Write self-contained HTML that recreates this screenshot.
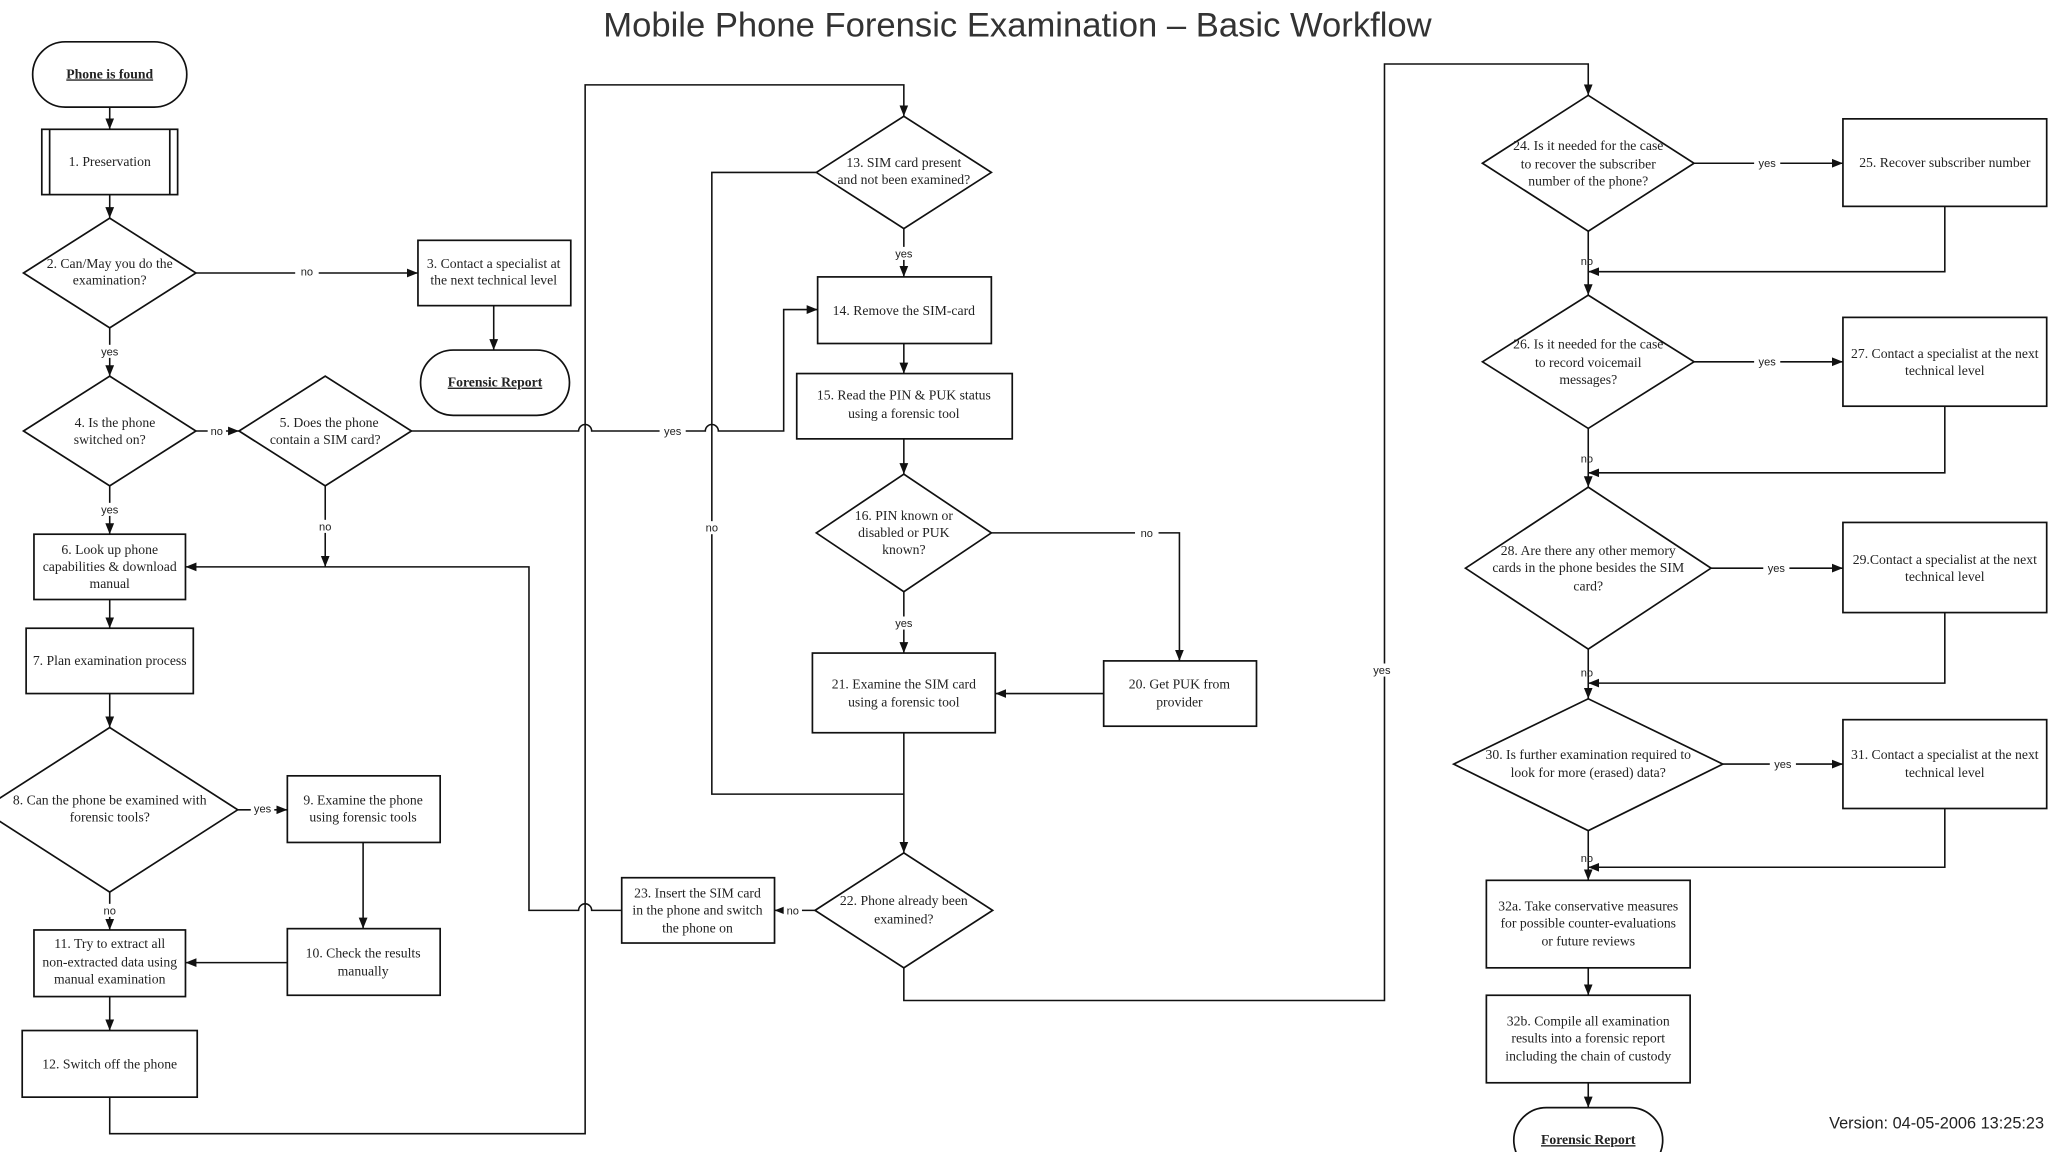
<!DOCTYPE html>
<html><head><meta charset="utf-8"><style>
html,body{margin:0;padding:0;background:#fff;}
svg{display:block;}
text{font-family:"Liberation Serif",serif;font-size:10.5px;fill:#222;}
.s{font-family:"Liberation Sans",sans-serif;font-size:8.5px;}
</style></head><body>
<svg width="2048" height="1152" viewBox="0 0 1568 882" preserveAspectRatio="none" xmlns="http://www.w3.org/2000/svg">
<defs><marker id="a" viewBox="0 0 10 10" refX="10" refY="5" markerWidth="7" markerHeight="7" orient="auto"><path d="M0,1 L10,5 L0,9 z" fill="#111"/></marker></defs>
<rect width="1568" height="882" fill="#fff"/>
<text x="779" y="28" text-anchor="middle" style="font-family:'Liberation Sans',sans-serif;font-size:26.5px;fill:#333">Mobile Phone Forensic Examination – Basic Workflow</text>
<g fill="#fff" stroke="#111" stroke-width="1.3">
<rect x="25" y="32" width="118" height="50" rx="25"/>
<rect x="32" y="99" width="104" height="50"/><line x1="38" y1="99" x2="38" y2="149"/><line x1="130" y1="99" x2="130" y2="149"/>
<polygon points="18,209 84,167 150,209 84,251"/>
<rect x="320" y="184" width="117" height="50"/>
<rect x="322" y="268" width="114" height="50" rx="25"/>
<polygon points="18,330 84,288 150,330 84,372"/>
<polygon points="183,330 249,288 315,330 249,372"/>
<rect x="26" y="409" width="116" height="50"/>
<rect x="20" y="481" width="128" height="50"/>
<polygon points="-14,620 84,557 182,620 84,683"/>
<rect x="220" y="594" width="117" height="51"/>
<rect x="220" y="711" width="117" height="51"/>
<rect x="26" y="712" width="116" height="51"/>
<rect x="17" y="789" width="134" height="51"/>
<polygon points="625,132 692,89 759,132 692,175"/>
<rect x="626" y="212" width="133" height="51"/>
<rect x="610" y="286" width="165" height="50"/>
<polygon points="625,408 692,363 759,408 692,453"/>
<rect x="622" y="500" width="140" height="61"/>
<rect x="845" y="506" width="117" height="50"/>
<polygon points="624,697 692,653 760,697 692,741"/>
<rect x="476" y="672" width="117" height="50"/>
<polygon points="1135,125 1216,73 1297,125 1216,177"/>
<rect x="1411" y="91" width="156" height="67"/>
<polygon points="1135,277 1216,226 1297,277 1216,328"/>
<rect x="1411" y="243" width="156" height="68"/>
<polygon points="1122,435 1216,373 1310,435 1216,497"/>
<rect x="1411" y="400" width="156" height="69"/>
<polygon points="1113,585 1216,535 1319,585 1216,636"/>
<rect x="1411" y="551" width="156" height="68"/>
<rect x="1138" y="674" width="156" height="67"/>
<rect x="1138" y="762" width="156" height="67"/>
<rect x="1159" y="848" width="114" height="50" rx="25"/>
</g>
<g fill="none" stroke="#111" stroke-width="1.2">
<path d="M84,82V99" marker-end="url(#a)"/>
<path d="M84,149V167" marker-end="url(#a)"/>
<path d="M150,209H320" marker-end="url(#a)"/>
<path d="M378,234V268" marker-end="url(#a)"/>
<path d="M84,251V288" marker-end="url(#a)"/>
<path d="M150,330H183" marker-end="url(#a)"/>
<path d="M84,372V409" marker-end="url(#a)"/>
<path d="M249,372V434" marker-end="url(#a)"/>
<path d="M84,459V481" marker-end="url(#a)"/>
<path d="M84,531V557" marker-end="url(#a)"/>
<path d="M182,620H220" marker-end="url(#a)"/>
<path d="M278,645V711" marker-end="url(#a)"/>
<path d="M220,737H142" marker-end="url(#a)"/>
<path d="M84,683V712" marker-end="url(#a)"/>
<path d="M84,763V789" marker-end="url(#a)"/>
<path d="M84,840V868H448V65H692V89" marker-end="url(#a)"/>
<path d="M315,330H443a5,5 0 0 1 10,0H540a5,5 0 0 1 10,0H600V237H626" marker-end="url(#a)"/>
<path d="M625,132H545V608H692"/>
<path d="M692,175V212" marker-end="url(#a)"/>
<path d="M692,263V286" marker-end="url(#a)"/>
<path d="M692,336V363" marker-end="url(#a)"/>
<path d="M759,408H903V506" marker-end="url(#a)"/>
<path d="M845,531H762" marker-end="url(#a)"/>
<path d="M692,453V500" marker-end="url(#a)"/>
<path d="M692,561V653" marker-end="url(#a)"/>
<path d="M624,697H593" marker-end="url(#a)"/>
<path d="M476,697H453a5,5 0 0 0 -10,0H405V434H142" marker-end="url(#a)"/>
<path d="M692,741V766H1060V49H1216V73" marker-end="url(#a)"/>
<path d="M1297,125H1411" marker-end="url(#a)"/>
<path d="M1489,158V208H1216" marker-end="url(#a)"/>
<path d="M1216,177V226" marker-end="url(#a)"/>
<path d="M1297,277H1411" marker-end="url(#a)"/>
<path d="M1489,311V362H1216" marker-end="url(#a)"/>
<path d="M1216,328V373" marker-end="url(#a)"/>
<path d="M1310,435H1411" marker-end="url(#a)"/>
<path d="M1489,469V523H1216" marker-end="url(#a)"/>
<path d="M1216,497V535" marker-end="url(#a)"/>
<path d="M1319,585H1411" marker-end="url(#a)"/>
<path d="M1489,619V664H1216" marker-end="url(#a)"/>
<path d="M1216,636V674" marker-end="url(#a)"/>
<path d="M1216,741V762" marker-end="url(#a)"/>
<path d="M1216,829V848" marker-end="url(#a)"/>
</g>
<g class="s" text-anchor="middle">
<rect x="226" y="203" width="18" height="10" fill="#fff"/><text class="s" x="235" y="211" text-anchor="middle">no</text>
<rect x="74" y="264" width="20" height="10" fill="#fff"/><text class="s" x="84" y="272" text-anchor="middle">yes</text>
<rect x="159" y="325" width="14" height="10" fill="#fff"/><text class="s" x="166" y="333" text-anchor="middle">no</text>
<rect x="74" y="385" width="20" height="10" fill="#fff"/><text class="s" x="84" y="393" text-anchor="middle">yes</text>
<rect x="240" y="398" width="18" height="10" fill="#fff"/><text class="s" x="249" y="406" text-anchor="middle">no</text>
<rect x="192" y="614" width="18" height="10" fill="#fff"/><text class="s" x="201" y="622" text-anchor="middle">yes</text>
<rect x="75" y="692" width="18" height="10" fill="#fff"/><text class="s" x="84" y="700" text-anchor="middle">no</text>
<rect x="505" y="325" width="20" height="10" fill="#fff"/><text class="s" x="515" y="333" text-anchor="middle">yes</text>
<rect x="536" y="399" width="18" height="10" fill="#fff"/><text class="s" x="545" y="407" text-anchor="middle">no</text>
<rect x="682" y="189" width="20" height="10" fill="#fff"/><text class="s" x="692" y="197" text-anchor="middle">yes</text>
<rect x="869" y="403" width="18" height="10" fill="#fff"/><text class="s" x="878" y="411" text-anchor="middle">no</text>
<rect x="682" y="472" width="20" height="10" fill="#fff"/><text class="s" x="692" y="480" text-anchor="middle">yes</text>
<rect x="600" y="692" width="14" height="10" fill="#fff"/><text class="s" x="607" y="700" text-anchor="middle">no</text>
<rect x="1049" y="508" width="20" height="10" fill="#fff"/><text class="s" x="1058" y="516" text-anchor="middle">yes</text>
<rect x="1343" y="120" width="20" height="10" fill="#fff"/><text class="s" x="1353" y="128" text-anchor="middle">yes</text>
<rect x="1343" y="272" width="20" height="10" fill="#fff"/><text class="s" x="1353" y="280" text-anchor="middle">yes</text>
<rect x="1350" y="430" width="20" height="10" fill="#fff"/><text class="s" x="1360" y="438" text-anchor="middle">yes</text>
<rect x="1355" y="580" width="20" height="10" fill="#fff"/><text class="s" x="1365" y="588" text-anchor="middle">yes</text>
<text class="s" x="1215" y="203" text-anchor="middle">no</text>
<text class="s" x="1215" y="354" text-anchor="middle">no</text>
<text class="s" x="1215" y="518" text-anchor="middle">no</text>
<text class="s" x="1215" y="660" text-anchor="middle">no</text>
</g>
<g text-anchor="middle">
<text x="84" y="60" style="font-weight:bold;text-decoration:underline">Phone is found</text>
<text x="84" y="127">1. Preservation</text>
<text x="84" y="205">2. Can/May you do the</text><text x="84" y="218">examination?</text>
<text x="378" y="205">3. Contact a specialist at</text><text x="378" y="218">the next technical level</text>
<text x="379" y="296" style="font-weight:bold;text-decoration:underline">Forensic Report</text>
<text x="88" y="327">4. Is the phone</text><text x="84" y="340">switched on?</text>
<text x="252" y="327">5. Does the phone</text><text x="249" y="340">contain a SIM card?</text>
<text x="84" y="424">6. Look up phone</text><text x="84" y="437">capabilities &amp; download</text><text x="84" y="450">manual</text>
<text x="84" y="509">7. Plan examination process</text>
<text x="84" y="616">8. Can the phone be examined with</text><text x="84" y="629">forensic  tools?</text>
<text x="278" y="616">9. Examine the phone</text><text x="278" y="629">using forensic tools</text>
<text x="278" y="733">10. Check the results</text><text x="278" y="747">manually</text>
<text x="84" y="726">11. Try to extract all</text><text x="84" y="740">non-extracted data using</text><text x="84" y="753">manual examination</text>
<text x="84" y="818">12. Switch off the phone</text>
<text x="692" y="128">13. SIM card present</text><text x="692" y="141">and not been examined?</text>
<text x="692" y="241">14. Remove the SIM-card</text>
<text x="692" y="306">15. Read the PIN &amp; PUK status</text><text x="692" y="320">using a forensic tool</text>
<text x="692" y="398">16. PIN known or</text><text x="692" y="411">disabled or PUK</text><text x="692" y="424">known?</text>
<text x="692" y="527">21. Examine the SIM card</text><text x="692" y="541">using a forensic tool</text>
<text x="903" y="527">20. Get PUK from</text><text x="903" y="541">provider</text>
<text x="692" y="693">22. Phone already been</text><text x="692" y="707">examined?</text>
<text x="534" y="687">23. Insert the SIM card</text><text x="534" y="700">in the phone and switch</text><text x="534" y="714">the phone on</text>
<text x="1216" y="115">24. Is it needed for the case</text><text x="1216" y="129">to recover the subscriber</text><text x="1216" y="142">number of the phone?</text>
<text x="1489" y="128">25. Recover subscriber number</text>
<text x="1216" y="267">26. Is it needed for the case</text><text x="1216" y="281">to record voicemail</text><text x="1216" y="294">messages?</text>
<text x="1489" y="274">27. Contact a specialist at the next</text><text x="1489" y="287">technical level</text>
<text x="1216" y="425">28. Are there any other memory</text><text x="1216" y="438">cards in the phone besides the SIM</text><text x="1216" y="452">card?</text>
<text x="1489" y="432">29.Contact a specialist at the next</text><text x="1489" y="445">technical level</text>
<text x="1216" y="581">30. Is further examination required to</text><text x="1216" y="595">look for more (erased) data?</text>
<text x="1489" y="581">31. Contact a specialist at the next</text><text x="1489" y="595">technical level</text>
<text x="1216" y="697">32a. Take conservative measures</text><text x="1216" y="710">for possible counter-evaluations</text><text x="1216" y="724">or future reviews</text>
<text x="1216" y="785">32b. Compile all examination</text><text x="1216" y="798">results into a forensic report</text><text x="1216" y="812">including the chain of custody</text>
<text x="1216" y="876" style="font-weight:bold;text-decoration:underline">Forensic Report</text>
</g>
<text x="1565" y="864" text-anchor="end" style="font-family:'Liberation Sans',sans-serif;font-size:12.5px;fill:#222">Version: 04-05-2006 13:25:23</text>
</svg>
</body></html>
